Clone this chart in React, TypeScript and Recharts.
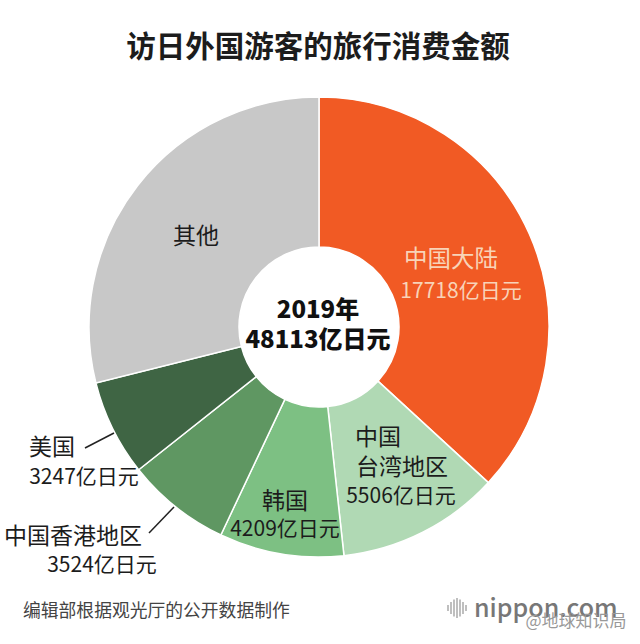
import { PieChart, Pie, Cell } from 'recharts';

const names = ['中国大陆', '中国台湾地区', '韩国', '中国香港地区', '美国', '其他'];
const values = [17718, 5506, 4209, 3524, 3247, 13909];
const colors = ['#F15A24', '#B0D9B4', '#7DC083', '#5F9762', '#3F6544', '#C8C8C8'];

const FONT = '"Noto Sans CJK SC", "Noto Sans", sans-serif';

const data = names.map((name, i) => ({ name, value: values[i] }));

// little striped circle of the nippon.com logo
const logoBars = [448, 451, 454, 457, 460, 463, 466];
const logoHeights = [6, 12, 17, 20, 17, 12, 6];

function Label({ x, y, size, fill = '#1c1c1c', weight = 400, anchor = 'middle', children }: any) {
  return (
    <text x={x} y={y} fontSize={size} fill={fill} fontWeight={weight} textAnchor={anchor} fontFamily={FONT}>
      {children}
    </text>
  );
}

export default function App() {
  return (
    <div style={{ position: 'absolute', left: 0, top: 0, width: 640, height: 644, background: '#fff' }}>
      <PieChart width={640} height={644} margin={{ top: 0, right: 0, bottom: 0, left: 0 }}>
        <Pie
          data={data}
          dataKey="value"
          nameKey="name"
          cx={319}
          cy={327}
          innerRadius={80}
          outerRadius={230}
          startAngle={90}
          endAngle={-270}
          stroke="#fff"
          strokeWidth={1.5}
          isAnimationActive={false}
        >
          {data.map((d, i) => (
            <Cell key={d.name} fill={colors[i]} />
          ))}
        </Pie>
      </PieChart>

      {/* labels go in their own svg, the chart paints its slices over any children */}
      <svg width={640} height={644} style={{ position: 'absolute', left: 0, top: 0 }}>
        <Label x={318} y={57} size={29.5} weight={700}>访日外国游客的旅行消费金额</Label>

        <Label x={318} y={318} size={24} weight={900} fill="#111">2019年</Label>
        <Label x={318} y={348} size={24} weight={900} fill="#111">48113亿日元</Label>

        <Label x={451} y={267} size={23.5} fill="#F8D3B8">中国大陆</Label>
        <Label x={461} y={298} size={21} fill="#F8D3B8">17718亿日元</Label>

        <Label x={196} y={244} size={23}>其他</Label>

        <Label x={378} y={445} size={23}>中国</Label>
        <Label x={402} y={475} size={23}>台湾地区</Label>
        <Label x={401} y={503} size={21}>5506亿日元</Label>

        <Label x={285} y={509} size={23}>韩国</Label>
        <Label x={285} y={536} size={21}>4209亿日元</Label>

        <Label x={52} y={455} size={23}>美国</Label>
        <Label x={84} y={484} size={21}>3247亿日元</Label>
        <line x1={85} y1={448} x2={114} y2={433} stroke="#222" strokeWidth={1.5} />

        <Label x={73} y={544} size={23}>中国香港地区</Label>
        <Label x={102} y={572} size={21}>3524亿日元</Label>
        <line x1={149} y1={533} x2={174} y2={507} stroke="#222" strokeWidth={1.5} />

        <Label x={23} y={617} size={17.8} anchor="start" fill="#444">编辑部根据观光厅的公开数据制作</Label>

        {logoBars.map((x, i) => (
          <line key={x} x1={x} y1={608 - logoHeights[i] / 2} x2={x} y2={608 + logoHeights[i] / 2} stroke="#aaa" strokeWidth={1.5} />
        ))}
        <Label x={474} y={617} size={25} anchor="start" fill="#777" weight={500}>nippon.com</Label>
        <Label x={576} y={627} size={17} fill="#999">@地球知识局</Label>
      </svg>
    </div>
  );
}
